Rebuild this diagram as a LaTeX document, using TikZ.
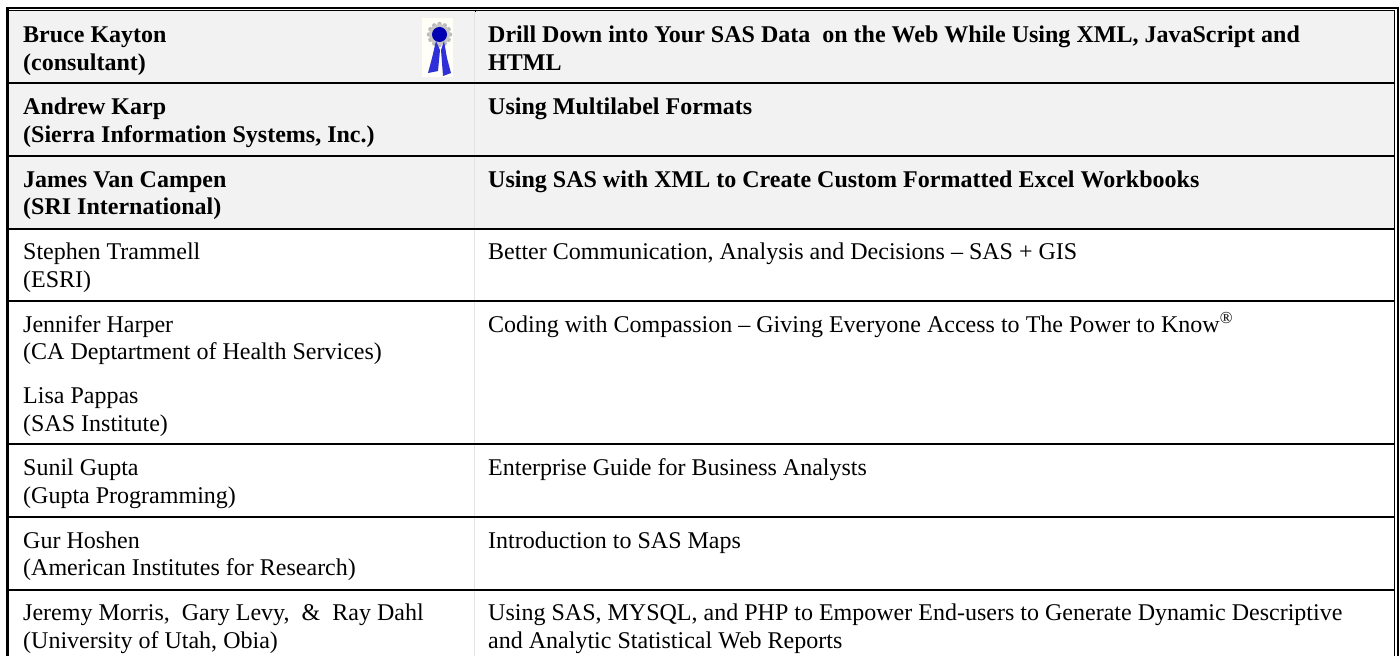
\documentclass[tikz,border=0pt]{standalone}
\usepackage{fontspec}
\setmainfont{Liberation Serif}
\definecolor{rowgray}{HTML}{F2F2F2}
\definecolor{divider}{HTML}{E4E4E4}
\definecolor{ribbon}{HTML}{3030D8}
\begin{document}
\begin{tikzpicture}[x=1bp,y=-1bp,line cap=butt,
  cell/.style={inner sep=0pt,anchor=base west,yshift=-0.7bp,font=\fontsize{24.1}{26}\selectfont},
  bcell/.style={cell,font=\fontsize{24.1}{26}\selectfont\bfseries},
  rule/.style={line width=2bp,black},
  heavy/.style={line width=2bp,black},
  thin rule/.style={line width=0.9bp,black}]
\useasboundingbox (0,0) rectangle (1400,656);
\fill[white] (0,0) rectangle (1400,656);
\fill[rowgray] (9,10) rectangle (1394,228.7);
\fill[white!97!yellow] (422,18) rectangle (453,77);
\foreach \a in {0,30,...,330}
  \fill[gray!55] (439.5,34.5) ++(\a:10.5) circle (2.2);
\fill[gray!45] (439.5,34.5) circle (10.5);
\fill[blue!70!black] (439.5,34.5) circle (7.5);
\fill[ribbon] (436,41) -- (432,58) -- (428,73) -- (438,71) -- (440,50) -- cycle;
\fill[ribbon] (441,50) -- (443,76) -- (451,73) -- (447,58) -- (444,41) -- cycle;
\draw[divider,line width=1.4bp] (474.3,10) -- (474.3,656);
\draw[line width=1bp] (475.5,10.5) -- (475.5,12.5);
\draw[heavy] (6,8) -- (1398.7,8);
\draw[line width=3.2bp] (7.6,7) -- (7.6,656);
\draw[heavy] (1397.7,7) -- (1397.7,656);
\draw[thin rule] (9,10.3) -- (1395.2,10.3);
\draw[thin rule] (1394.8,10) -- (1394.8,656);
\foreach \y in {83,156,229,301,444,517,589.5}
  \draw[rule] (8,\y) -- (1394.5,\y);
\node[bcell] at (23,41.7) {Bruce Kayton};
\node[bcell] at (23,69.5) {(consultant)};
\node[bcell] at (488,41.7) {Drill Down into Your SAS Data\ \ on the Web While Using XML, JavaScript and};
\node[bcell] at (488,69.5) {HTML};
\node[bcell] at (23,114) {Andrew Karp};
\node[bcell] at (23,141.7) {(Sierra Information Systems, Inc.)};
\node[bcell] at (488,114) {Using Multilabel Formats};
\node[bcell] at (23,186.7) {James Van Campen};
\node[bcell] at (23,214) {(SRI International)};
\node[bcell] at (488,186.7) {Using SAS with XML to Create Custom Formatted Excel Workbooks};
\node[cell] at (23,259) {Stephen Trammell};
\node[cell] at (23,286.5) {(ESRI)};
\node[cell] at (488,259) {Better Communication, Analysis and Decisions -- SAS + GIS};
\node[cell] at (23,331.7) {Jennifer Harper};
\node[cell] at (23,359) {(CA Deptartment of Health Services)};
\node[cell] at (23,402.7) {Lisa Pappas};
\node[cell] at (23,430.5) {(SAS Institute)};
\node[cell] at (488,331.7) {Coding with Compassion -- Giving Everyone Access to The Power to Know\textsuperscript{®}};
\node[cell] at (23,475) {Sunil Gupta};
\node[cell] at (23,502.5) {(Gupta Programming)};
\node[cell] at (488,475) {Enterprise Guide for Business Analysts};
\node[cell] at (23,547.7) {Gur Hoshen};
\node[cell] at (23,575) {(American Institutes for Research)};
\node[cell] at (488,547.7) {Introduction to SAS Maps};
\node[cell] at (23,620) {Jeremy Morris,\ \ Gary Levy,\ \ \&\ \ Ray Dahl};
\node[cell] at (23,648) {(University of Utah, Obia)};
\node[cell] at (488,620) {Using SAS, MYSQL, and PHP to Empower End-users to Generate Dynamic Descriptive};
\node[cell] at (488,648) {and Analytic Statistical Web Reports};
\end{tikzpicture}
\end{document}
